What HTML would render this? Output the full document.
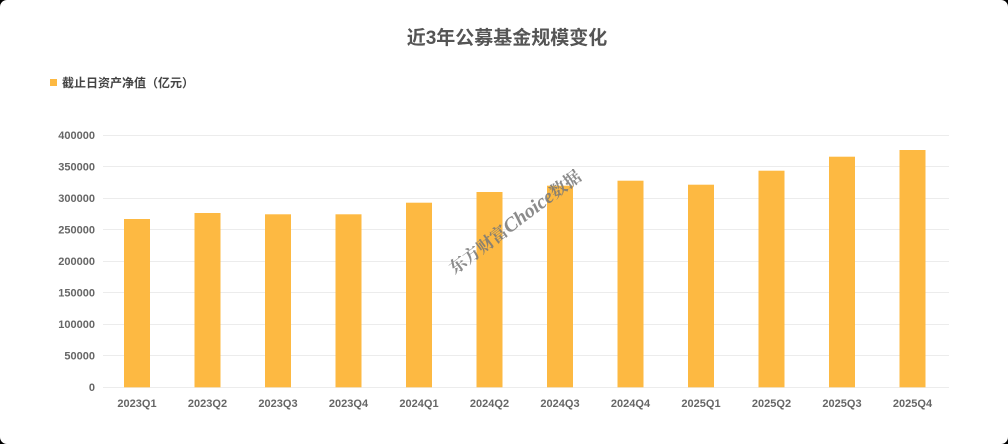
<!DOCTYPE html>
<html><head><meta charset="utf-8">
<style>
html,body{margin:0;padding:0;background:#000;}
body{width:1008px;height:444px;overflow:hidden;}
.card{position:absolute;left:0;top:0;width:1008px;height:444px;background:#fff;border-radius:7px;}
svg{position:absolute;left:0;top:0;}
</style></head>
<body>
<div class="card"></div>
<svg width="1008" height="444" viewBox="0 0 1008 444" xmlns="http://www.w3.org/2000/svg">
<text x="507" y="44" text-anchor="middle" font-family="'Liberation Sans','Noto Sans CJK SC',sans-serif" font-size="19" font-weight="bold" fill="#555">近3年公募基金规模变化</text>
<rect x="50" y="79" width="7" height="7" fill="#FDB942"/>
<text x="62" y="87" font-family="'Liberation Sans','Noto Sans CJK SC',sans-serif" font-size="12" font-weight="bold" fill="#444">截止日资产净值（亿元）</text>
<g stroke="#ececec" stroke-width="1">
<line x1="103" x2="949" y1="135.5" y2="135.5"/>
<line x1="103" x2="949" y1="166.5" y2="166.5"/>
<line x1="103" x2="949" y1="198.5" y2="198.5"/>
<line x1="103" x2="949" y1="229.5" y2="229.5"/>
<line x1="103" x2="949" y1="261.5" y2="261.5"/>
<line x1="103" x2="949" y1="292.5" y2="292.5"/>
<line x1="103" x2="949" y1="324.5" y2="324.5"/>
<line x1="103" x2="949" y1="355.5" y2="355.5"/>
<line x1="103" x2="949" y1="387.5" y2="387.5"/>
</g>
<g font-family="'Liberation Sans',sans-serif" font-size="11" font-weight="bold" fill="#666" text-anchor="end">
<text x="95" y="139">400000</text>
<text x="95" y="170.5">350000</text>
<text x="95" y="202">300000</text>
<text x="95" y="233.5">250000</text>
<text x="95" y="265">200000</text>
<text x="95" y="296.5">150000</text>
<text x="95" y="328">100000</text>
<text x="95" y="359.5">50000</text>
<text x="95" y="391">0</text>
</g>
<g fill="#FDB942">
<rect x="124" y="219" width="26" height="168.3"/>
<rect x="194.5" y="213" width="26" height="174.3"/>
<rect x="265" y="214.3" width="26" height="173"/>
<rect x="335.5" y="214.3" width="26" height="173"/>
<rect x="406" y="202.7" width="26" height="184.6"/>
<rect x="476.5" y="192" width="26" height="195.3"/>
<rect x="547" y="185.7" width="26" height="201.6"/>
<rect x="617.5" y="180.7" width="26" height="206.6"/>
<rect x="688" y="184.7" width="26" height="202.6"/>
<rect x="758.5" y="170.7" width="26" height="216.6"/>
<rect x="829" y="156.7" width="26" height="230.6"/>
<rect x="899.5" y="150" width="26" height="237.3"/>
</g>
<g font-family="'Liberation Sans',sans-serif" font-size="11" font-weight="bold" fill="#666" text-anchor="middle">
<text x="137" y="407">2023Q1</text>
<text x="207.5" y="407">2023Q2</text>
<text x="278" y="407">2023Q3</text>
<text x="348.5" y="407">2023Q4</text>
<text x="419" y="407">2024Q1</text>
<text x="489.5" y="407">2024Q2</text>
<text x="560" y="407">2024Q3</text>
<text x="630.5" y="407">2024Q4</text>
<text x="701" y="407">2025Q1</text>
<text x="771.5" y="407">2025Q2</text>
<text x="842" y="407">2025Q3</text>
<text x="912.5" y="407">2025Q4</text>
</g>
<g transform="translate(515,222) rotate(-37)">
<text x="0" y="6" text-anchor="middle" font-family="'Liberation Serif','Noto Serif CJK SC',serif" font-size="17" font-weight="bold" fill="#777" fill-opacity="0.85">东方财富<tspan font-style="italic" font-size="20">Choice</tspan>数据</text>
</g>
</svg>
</body></html>
